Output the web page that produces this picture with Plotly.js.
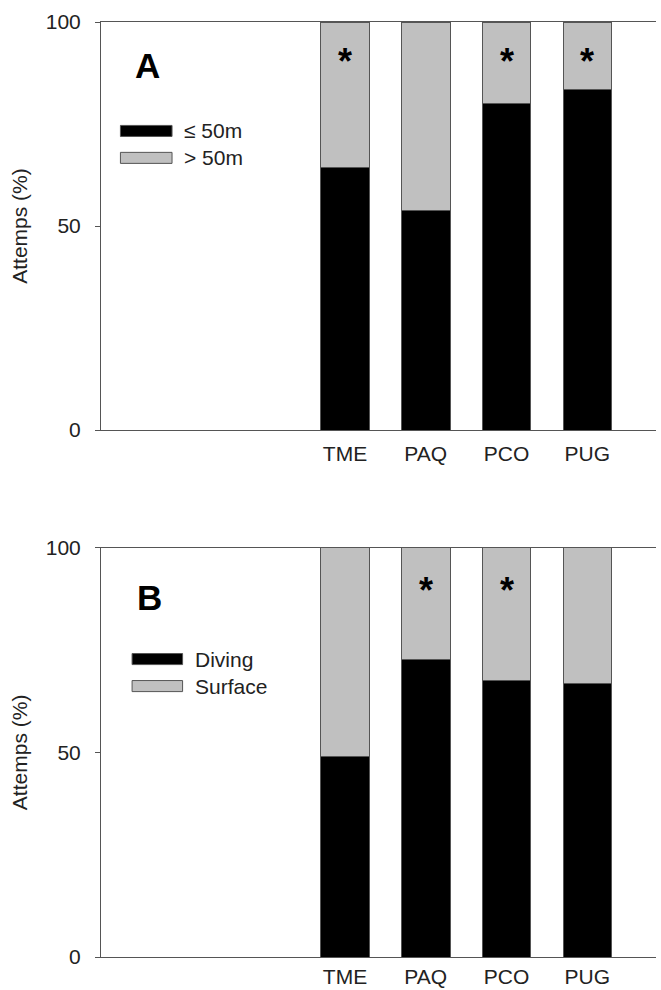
<!DOCTYPE html>
<html>
<head>
<meta charset="utf-8">
<script src="https://cdn.plot.ly/plotly-3.0.1.min.js"></script>
<style>html,body{margin:0;padding:0;background:#fff;}#chart{width:661px;height:990px;}</style>
</head>
<body>
<div id="chart"></div>
<script>
// ---- data ----
const species = ['TME', 'PAQ', 'PCO', 'PUG'];
const depthShallow = [64.3, 53.9, 80.1, 83.4];   // <= 50m
const depthDeep = [35.7, 46.1, 19.9, 16.6];      // > 50m
const diving = [49.1, 72.8, 67.5, 66.9];
const surface = [50.9, 27.2, 32.5, 33.1];
const sigA = ['TME', 'PCO', 'PUG'];
const sigB = ['PAQ', 'PCO'];
const legendA = ['≤ 50m', '> 50m'];
const legendB = ['Diving', 'Surface'];
const yTicks = [0, 50, 100];

const FONT = 'Liberation Sans, Arial, sans-serif';
const BLACK = '#000000', GREY = '#c0c0c0', EDGE = '#555555', AXIS = '#555555';
const FS = 21;

function bar(y, color, name, xa, ya) {
  return {type: 'bar', x: species, y: y, name: name, xaxis: xa, yaxis: ya,
    marker: {color: color, line: {color: EDGE, width: 1}}, showlegend: false,
    hoverinfo: 'x+y+name'};
}

const data = [
  bar(depthShallow, BLACK, legendA[0], 'x', 'y'),
  bar(depthDeep, GREY, legendA[1], 'x', 'y'),
  bar(diving, BLACK, legendB[0], 'x2', 'y2'),
  bar(surface, GREY, legendB[1], 'x2', 'y2')
];

const xRange = [-3.02, 3.85];
function xa(anchor, standoff) {
  return {type: 'category', categoryorder: 'array', categoryarray: species,
    range: xRange, anchor: anchor, showline: true, linecolor: AXIS, linewidth: 1,
    mirror: true, ticks: '', showgrid: false, zeroline: false,
    tickfont: {family: FONT, size: FS, color: '#222'}, ticklabelstandoff: standoff};
}
function ya(anchor, domain) {
  return {range: [0, 100], domain: domain, anchor: anchor, showline: true,
    linecolor: AXIS, linewidth: 1, ticks: 'outside', ticklen: 5, tickcolor: AXIS,
    tickvals: yTicks, showgrid: false, zeroline: false,
    tickfont: {family: FONT, size: FS, color: '#222'}, ticklabelstandoff: 10,
    title: {text: 'Attemps (%)', font: {family: FONT, size: FS, color: '#222'}, standoff: 12}};
}

const annotations = [];
const shapes = [];
function star(x, xr, yr, yv) {
  annotations.push({x: x, y: yv, xref: xr, yref: yr, text: '<b>*</b>', showarrow: false,
    yanchor: 'middle', font: {family: FONT, size: 36, color: '#000'}});
}
sigA.forEach(s => star(s, 'x', 'y', 90.4));
sigB.forEach(s => star(s, 'x2', 'y2', 89.6));

function panelLabel(t, xr, yr, xv, yv) {
  annotations.push({x: xv, y: yv, xref: xr, yref: yr, text: '<b>' + t + '</b>',
    showarrow: false, xanchor: 'center', yanchor: 'middle',
    font: {family: FONT, size: 35, color: '#000'}});
}
panelLabel('A', 'x domain', 'y domain', 0.083, 0.893);
panelLabel('B', 'x2 domain', 'y2 domain', 0.087, 0.879);

function legend(labels, xr, yr, x0, x1, yTop) {
  const colors = [BLACK, GREY];
  labels.forEach((lab, i) => {
    const yc = yTop - i * 0.066;
    shapes.push({type: 'rect', xref: xr, yref: yr, x0: x0, x1: x1,
      y0: yc - 0.0135, y1: yc + 0.0135, fillcolor: colors[i],
      line: {color: EDGE, width: 1}});
    annotations.push({x: x1 + 0.018, y: yc, xref: xr, yref: yr, text: lab,
      showarrow: false, xanchor: 'left', yanchor: 'middle',
      font: {family: FONT, size: FS, color: '#222'}});
  });
}
legend(legendA, 'x domain', 'y domain', 0.035, 0.128, 0.733);
legend(legendB, 'x2 domain', 'y2 domain', 0.056, 0.147, 0.728);

const layout = {
  width: 661, height: 990,
  margin: {l: 101, r: 5, t: 22, b: 33},
  paper_bgcolor: '#fff', plot_bgcolor: '#fff',
  barmode: 'stack', bargap: 0.4,
  showlegend: false,
  xaxis: xa('y', 5), yaxis: ya('x', [0.5636, 1]),
  xaxis2: xa('y2', 1), yaxis2: ya('x2', [0, 0.4377]),
  annotations: annotations, shapes: shapes
};

Plotly.newPlot('chart', data, layout, {displayModeBar: false, staticPlot: true});
</script>
</body>
</html>
